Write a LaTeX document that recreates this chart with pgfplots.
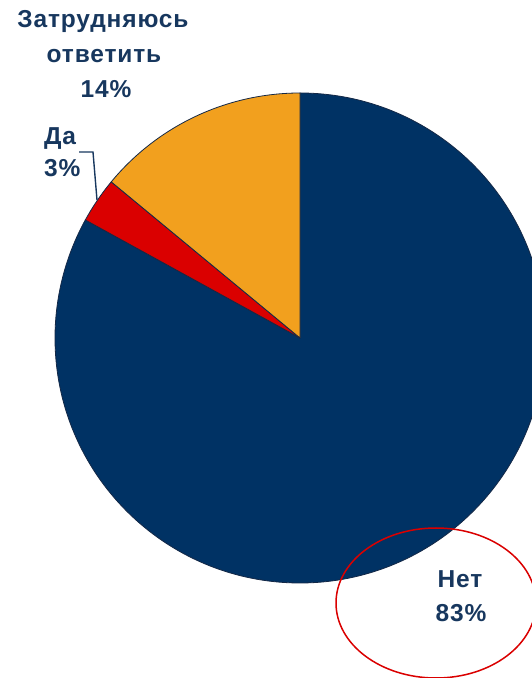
\documentclass[border=0pt]{standalone}
\usepackage{pgfplots}
\usepackage{pgfplotstable}
\pgfplotsset{compat=1.18}
\usepackage{fontspec}
\setmainfont{Liberation Sans}
\newfontfamily\lblfont[LetterSpace=3.5]{Liberation Sans}
\definecolor{pieNavy}{RGB}{0,50,100}
\definecolor{pieRed}{RGB}{218,0,0}
\definecolor{pieOrange}{RGB}{242,160,30}
\definecolor{txtNavy}{RGB}{23,55,94}
\definecolor{edgeNavy}{RGB}{20,40,70}
\begin{document}
\pgfplotstableread{
label value
Net 83
Da 3
Zat 14
}\piedata
\begin{tikzpicture}
\pgfplotstablegetelem{0}{value}\of\piedata \let\vA\pgfplotsretval
\pgfplotstablegetelem{1}{value}\of\piedata \let\vB\pgfplotsretval
\pgfplotstablegetelem{2}{value}\of\piedata \let\vC\pgfplotsretval
\pgfmathsetmacro\aA{90}
\pgfmathsetmacro\aB{\aA-3.6*\vA}
\pgfmathsetmacro\aC{\aB-3.6*\vB}
\pgfmathsetmacro\aD{\aC-3.6*\vC}
\begin{axis}[
  scale only axis, width=532bp, height=678bp,
  xmin=0, xmax=532, ymin=0, ymax=678,
  axis lines=none, clip=true,
]
\filldraw[fill=pieNavy, draw=edgeNavy, line width=0.8bp, line join=round]
  (axis cs:300,340) -- ++(\aA:245bp) arc[start angle=\aA, end angle=\aB, radius=245bp] -- cycle;
\filldraw[fill=pieRed, draw=edgeNavy, line width=0.8bp, line join=round]
  (axis cs:300,340) -- ++(\aB:245bp) arc[start angle=\aB, end angle=\aC, radius=245bp] -- cycle;
\filldraw[fill=pieOrange, draw=edgeNavy, line width=0.8bp, line join=round]
  (axis cs:300,340) -- ++(\aC:245bp) arc[start angle=\aC, end angle=\aD, radius=245bp] -- cycle;
\draw[txtNavy, line width=1.4bp] (axis cs:79,526) -- (axis cs:93,526) -- (axis cs:97,478);
\draw[pieRed, line width=1.5bp] (axis cs:436,75) ellipse [x radius=100bp, y radius=75bp];
\begin{scope}[every node/.style={anchor=base, text=txtNavy, inner sep=0pt, font=\lblfont\fontsize{24.5bp}{28bp}\selectfont\bfseries}]
\node at (axis cs:103,650) {Затрудняюсь};
\node at (axis cs:104,615) {ответить};
\node at (axis cs:106,580) {14\%};
\node[anchor=base west] at (axis cs:44,533) {Да};
\node[anchor=base west] at (axis cs:44,501) {3\%};
\node at (axis cs:460,90) {Нет};
\node at (axis cs:461,56) {83\%};
\end{scope}
\end{axis}
\pgfresetboundingbox
\useasboundingbox (current axis.south west) rectangle (current axis.north east);
\end{tikzpicture}
\end{document}
